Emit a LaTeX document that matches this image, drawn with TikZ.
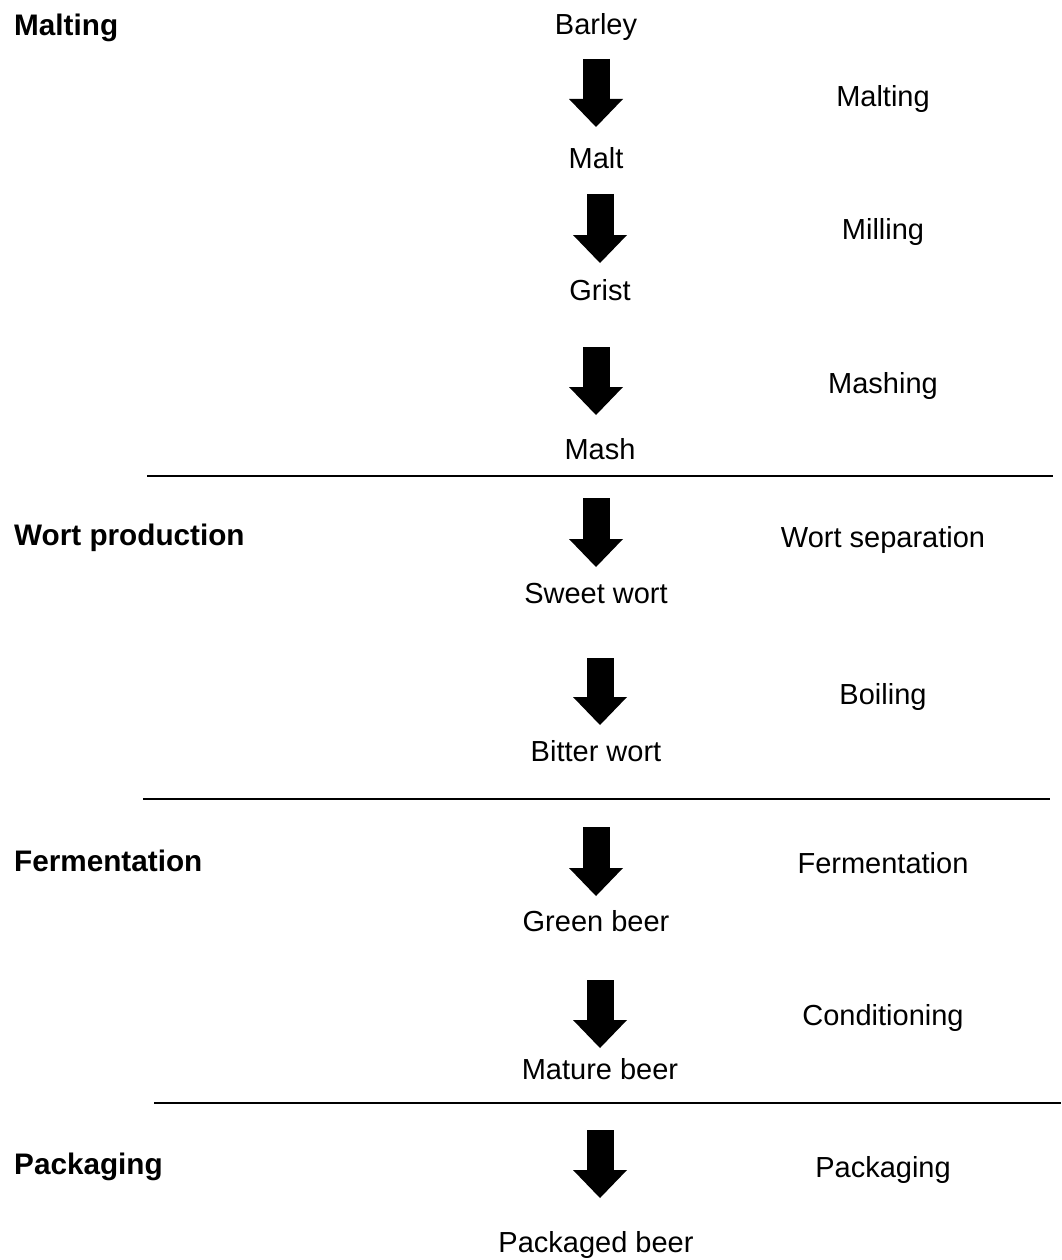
\documentclass[tikz,border=0pt]{standalone}
\usepackage{fontspec}
\setmainfont{Liberation Sans}
\usetikzlibrary{arrows.meta}
\begin{document}
\begin{tikzpicture}[x=1pt,y=-1pt,
  lbl/.style={anchor=base,inner sep=0pt,font=\fontsize{29}{34}\selectfont},
  stage/.style={anchor=base west,inner sep=0pt,font=\fontsize{29.7}{34}\selectfont\bfseries},
  sep/.style={line width=2pt},
  bigarrow/.style={line width=27pt,-{Triangle[width=54pt,length=28pt,line width=0pt]}}]
\useasboundingbox (0,0) rectangle (1061,1260);
% products
\node[lbl] (barley) at (596,35) {Barley};
\node[lbl] (malt) at (596,168) {Malt};
\node[lbl] (grist) at (600,300) {Grist};
\node[lbl] (mash) at (600,459) {Mash};
\node[lbl] (sweet) at (596,603) {Sweet wort};
\node[lbl] (bitter) at (596,761) {Bitter wort};
\node[lbl] (green) at (596,931) {Green beer};
\node[lbl] (mature) at (600,1079) {Mature beer};
\node[lbl] (packaged) at (596,1252) {Packaged beer};
% processes
\node[lbl] (pmalting) at (883,107) {Malting};
\node[lbl] (pmilling) at (883,239) {Milling};
\node[lbl] (pmashing) at (883,393) {Mashing};
\node[lbl] (pwort) at (883,547) {Wort separation};
\node[lbl] (pboil) at (883,704) {Boiling};
\node[lbl] (pferm) at (883,873) {Fermentation};
\node[lbl] (pcond) at (883,1025) {Conditioning};
\node[lbl] (ppack) at (883,1177) {Packaging};
% stages
\node[stage] (smalting) at (14,36) {Malting};
\node[stage] (swort) at (14,545) {Wort production};
\node[stage] (sferm) at (14,871) {Fermentation};
\node[stage] (spack) at (14,1174) {Packaging};
% separators
\coordinate (l1a) at (147,476); \coordinate (l1b) at (1053,476);
\coordinate (l2a) at (143,799); \coordinate (l2b) at (1050,799);
\coordinate (l3a) at (154,1103); \coordinate (l3b) at (1061,1103);
\draw[sep] (l1a) -- (l1b);
\draw[sep] (l2a) -- (l2b);
\draw[sep] (l3a) -- (l3b);
% arrows
\coordinate (a1s) at (596,59);   \coordinate (a1e) at (596,127);
\coordinate (a2s) at (600,194);  \coordinate (a2e) at (600,263);
\coordinate (a3s) at (596,347);  \coordinate (a3e) at (596,415);
\coordinate (a4s) at (596,498);  \coordinate (a4e) at (596,567);
\coordinate (a5s) at (600,658);  \coordinate (a5e) at (600,725);
\coordinate (a6s) at (596,827);  \coordinate (a6e) at (596,896);
\coordinate (a7s) at (600,980);  \coordinate (a7e) at (600,1048);
\coordinate (a8s) at (600,1130); \coordinate (a8e) at (600,1198);
\foreach \i in {1,...,8} {\draw[bigarrow] (a\i s) -- (a\i e);}
\end{tikzpicture}
\end{document}
